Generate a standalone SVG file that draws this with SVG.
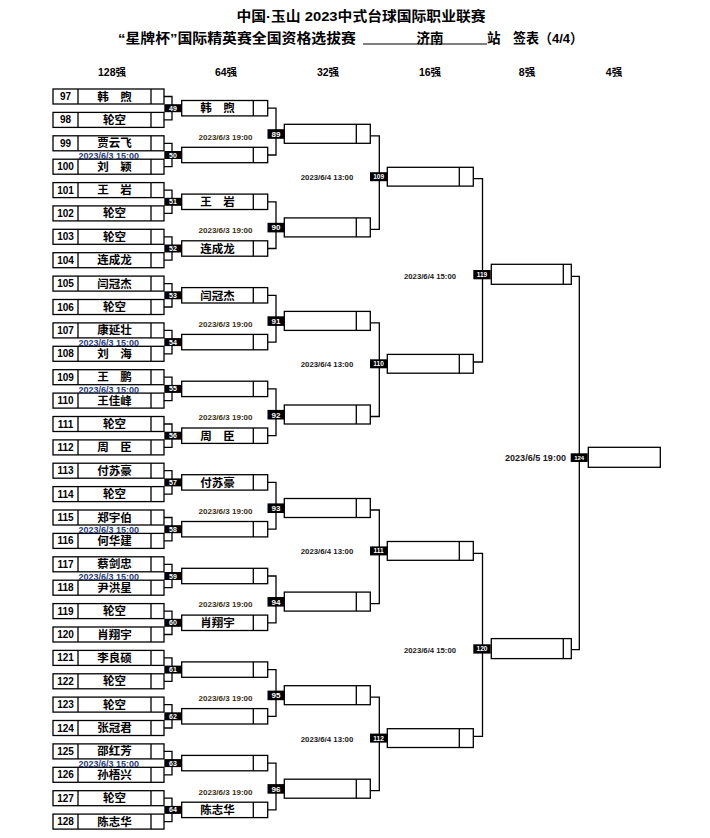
<svg xmlns="http://www.w3.org/2000/svg" xmlns:xlink="http://www.w3.org/1999/xlink" width="710" height="838" viewBox="0 0 710 838">
<style>
.t{font-family:"Liberation Sans","Noto Sans CJK SC",sans-serif;font-weight:bold;text-anchor:middle;fill:#000}
.b{fill:#fff;stroke:#000;stroke-width:1.3}
.d{fill:none;stroke:#000;stroke-width:1.3}
.c{fill:none;stroke:#000;stroke-width:1.3}
.num{font-size:10px}
.nm{font-size:11.5px}
.lb{fill:#000}
.lt{fill:#fff;font-size:7px}
.d15{font-size:8.5px;fill:#1f3a78;text-anchor:start}
.d19{font-size:7.5px;fill:#3a2f12}
.dt{font-size:7.5px;fill:#1a1a1a}
.hd{font-size:10.5px}
.ti{font-size:13.5px}
</style>
<defs>
<g id="r128"><rect class="b" x="53" y="0" width="111" height="15"/><path class="d" d="M78 0v15M151 0v15"/></g>
<g id="r64"><rect class="b" x="181.7" y="-7.7" width="86" height="15.4"/><path class="d" d="M253.3 -7.7v15.4"/><rect class="lb" x="164.3" y="-4" width="17.4" height="8"/></g>
<g id="r32"><rect class="b" x="284.3" y="-9.5" width="86" height="19"/><path class="d" d="M356.3 -9.5v19"/><rect class="lb" x="267.5" y="-4.6" width="16.8" height="9.6"/></g>
<g id="r16"><rect class="b" x="387.3" y="-9.4" width="86" height="18.8"/><path class="d" d="M459.3 -9.4v18.8"/><rect class="lb" x="370" y="-4.5" width="17.2" height="9"/></g>
<g id="r8"><rect class="b" x="491.3" y="-10" width="80" height="20"/><path class="d" d="M563.3 -10v20"/><rect class="lb" x="473.3" y="-4.3" width="17.4" height="9.3"/></g>
</defs>

<g id="title">
<text class="t ti" x="361" y="21" textLength="249" lengthAdjust="spacingAndGlyphs">中国·玉山 2023中式台球国际职业联赛</text>
<text class="t ti" x="118" y="43" style="text-anchor:start" textLength="238" lengthAdjust="spacingAndGlyphs">“星牌杯”国际精英赛全国资格选拔赛</text>
<line x1="363" y1="44" x2="487" y2="44" stroke="#000" stroke-width="1"/>
<text class="t ti" x="430" y="43">济南</text>
<text class="t ti" x="487" y="43" style="text-anchor:start">站</text>
<text class="t ti" x="513" y="43" style="text-anchor:start" textLength="70" lengthAdjust="spacingAndGlyphs">签表（4/4）</text>
</g>

<g id="headers">
<text class="t hd" x="112" y="76">128强</text>
<text class="t hd" x="226" y="76">64强</text>
<text class="t hd" x="328" y="76">32强</text>
<text class="t hd" x="430" y="76">16强</text>
<text class="t hd" x="527" y="76">8强</text>
<text class="t hd" x="614" y="76">4强</text>
</g>

<g id="connectors">
<path class="c" d="M164 96.5H172V119.9H164M164 143.3H172V166.7H164M164 190.1H172V213.4H164M164 236.8H172V260.2H164M164 283.6H172V307H164M164 330.4H172V353.8H164M164 377.2H172V400.6H164M164 424H172V447.4H164M164 470.7H172V494.1H164M164 517.5H172V540.9H164M164 564.3H172V587.7H164M164 611.1H172V634.5H164M164 657.9H172V681.3H164M164 704.6H172V728H164M164 751.4H172V774.8H164M164 798.2H172V821.6H164"/>
<path class="c" d="M267.7 108.2H276V155H267.7M267.7 201.8H276V248.5H267.7M267.7 295.3H276V342.1H267.7M267.7 388.9H276V435.7H267.7M267.7 482.4H276V529.2H267.7M267.7 576H276V622.8H267.7M267.7 669.6H276V716.3H267.7M267.7 763.1H276V809.9H267.7"/>
<path class="c" d="M370.3 135.8H379.3V229.4H370.3M370.3 322.9H379.3V416.5H370.3M370.3 510H379.3V603.6H370.3M370.3 697.2H379.3V790.7H370.3"/>
<path class="c" d="M473.3 178.7H482.5V362H473.3M473.3 553.3H482.5V736.4H473.3"/>
<path class="c" d="M571.3 276.3H579.3V649.7H571.3"/>
</g>

<g id="p97" transform="translate(0,89)"><use href="#r128"/><text class="t num" x="65.5" y="11.1">97</text><text class="t nm" x="114.5" y="11.6">韩　煦</text></g>
<g id="p98" transform="translate(0,112.4)"><use href="#r128"/><text class="t num" x="65.5" y="11.1">98</text><text class="t nm" x="114.5" y="11.6">轮空</text></g>
<g id="p99" transform="translate(0,135.8)"><use href="#r128"/><text class="t num" x="65.5" y="11.1">99</text><text class="t nm" x="114.5" y="11.6">贾云飞</text></g>
<g id="p100" transform="translate(0,159.2)"><use href="#r128"/><text class="t num" x="65.5" y="11.1">100</text><text class="t nm" x="114.5" y="11.6">刘　颖</text></g>
<g id="p101" transform="translate(0,182.6)"><use href="#r128"/><text class="t num" x="65.5" y="11.1">101</text><text class="t nm" x="114.5" y="11.6">王　岩</text></g>
<g id="p102" transform="translate(0,205.9)"><use href="#r128"/><text class="t num" x="65.5" y="11.1">102</text><text class="t nm" x="114.5" y="11.6">轮空</text></g>
<g id="p103" transform="translate(0,229.3)"><use href="#r128"/><text class="t num" x="65.5" y="11.1">103</text><text class="t nm" x="114.5" y="11.6">轮空</text></g>
<g id="p104" transform="translate(0,252.7)"><use href="#r128"/><text class="t num" x="65.5" y="11.1">104</text><text class="t nm" x="114.5" y="11.6">连成龙</text></g>
<g id="p105" transform="translate(0,276.1)"><use href="#r128"/><text class="t num" x="65.5" y="11.1">105</text><text class="t nm" x="114.5" y="11.6">闫冠杰</text></g>
<g id="p106" transform="translate(0,299.5)"><use href="#r128"/><text class="t num" x="65.5" y="11.1">106</text><text class="t nm" x="114.5" y="11.6">轮空</text></g>
<g id="p107" transform="translate(0,322.9)"><use href="#r128"/><text class="t num" x="65.5" y="11.1">107</text><text class="t nm" x="114.5" y="11.6">康延壮</text></g>
<g id="p108" transform="translate(0,346.3)"><use href="#r128"/><text class="t num" x="65.5" y="11.1">108</text><text class="t nm" x="114.5" y="11.6">刘　海</text></g>
<g id="p109" transform="translate(0,369.7)"><use href="#r128"/><text class="t num" x="65.5" y="11.1">109</text><text class="t nm" x="114.5" y="11.6">王　鹏</text></g>
<g id="p110" transform="translate(0,393.1)"><use href="#r128"/><text class="t num" x="65.5" y="11.1">110</text><text class="t nm" x="114.5" y="11.6">王佳峰</text></g>
<g id="p111" transform="translate(0,416.5)"><use href="#r128"/><text class="t num" x="65.5" y="11.1">111</text><text class="t nm" x="114.5" y="11.6">轮空</text></g>
<g id="p112" transform="translate(0,439.9)"><use href="#r128"/><text class="t num" x="65.5" y="11.1">112</text><text class="t nm" x="114.5" y="11.6">周　臣</text></g>
<g id="p113" transform="translate(0,463.2)"><use href="#r128"/><text class="t num" x="65.5" y="11.1">113</text><text class="t nm" x="114.5" y="11.6">付苏豪</text></g>
<g id="p114" transform="translate(0,486.6)"><use href="#r128"/><text class="t num" x="65.5" y="11.1">114</text><text class="t nm" x="114.5" y="11.6">轮空</text></g>
<g id="p115" transform="translate(0,510)"><use href="#r128"/><text class="t num" x="65.5" y="11.1">115</text><text class="t nm" x="114.5" y="11.6">郑宇伯</text></g>
<g id="p116" transform="translate(0,533.4)"><use href="#r128"/><text class="t num" x="65.5" y="11.1">116</text><text class="t nm" x="114.5" y="11.6">何华建</text></g>
<g id="p117" transform="translate(0,556.8)"><use href="#r128"/><text class="t num" x="65.5" y="11.1">117</text><text class="t nm" x="114.5" y="11.6">蔡剑忠</text></g>
<g id="p118" transform="translate(0,580.2)"><use href="#r128"/><text class="t num" x="65.5" y="11.1">118</text><text class="t nm" x="114.5" y="11.6">尹洪星</text></g>
<g id="p119" transform="translate(0,603.6)"><use href="#r128"/><text class="t num" x="65.5" y="11.1">119</text><text class="t nm" x="114.5" y="11.6">轮空</text></g>
<g id="p120" transform="translate(0,627)"><use href="#r128"/><text class="t num" x="65.5" y="11.1">120</text><text class="t nm" x="114.5" y="11.6">肖翔宇</text></g>
<g id="p121" transform="translate(0,650.4)"><use href="#r128"/><text class="t num" x="65.5" y="11.1">121</text><text class="t nm" x="114.5" y="11.6">李良硕</text></g>
<g id="p122" transform="translate(0,673.8)"><use href="#r128"/><text class="t num" x="65.5" y="11.1">122</text><text class="t nm" x="114.5" y="11.6">轮空</text></g>
<g id="p123" transform="translate(0,697.1)"><use href="#r128"/><text class="t num" x="65.5" y="11.1">123</text><text class="t nm" x="114.5" y="11.6">轮空</text></g>
<g id="p124" transform="translate(0,720.5)"><use href="#r128"/><text class="t num" x="65.5" y="11.1">124</text><text class="t nm" x="114.5" y="11.6">张冠君</text></g>
<g id="p125" transform="translate(0,743.9)"><use href="#r128"/><text class="t num" x="65.5" y="11.1">125</text><text class="t nm" x="114.5" y="11.6">邵红芳</text></g>
<g id="p126" transform="translate(0,767.3)"><use href="#r128"/><text class="t num" x="65.5" y="11.1">126</text><text class="t nm" x="114.5" y="11.6">孙梧兴</text></g>
<g id="p127" transform="translate(0,790.7)"><use href="#r128"/><text class="t num" x="65.5" y="11.1">127</text><text class="t nm" x="114.5" y="11.6">轮空</text></g>
<g id="p128" transform="translate(0,814.1)"><use href="#r128"/><text class="t num" x="65.5" y="11.1">128</text><text class="t nm" x="114.5" y="11.6">陈志华</text></g>

<g id="m49" transform="translate(0,108.2)"><use href="#r64"/><text class="t lt" x="173" y="2.5">49</text><text class="t nm" x="217.5" y="4.2">韩　煦</text></g>
<g id="m50" transform="translate(0,155)"><use href="#r64"/><text class="t lt" x="173" y="2.5">50</text><text class="t d15" x="78.5" y="3.7" textLength="60.5" lengthAdjust="spacingAndGlyphs">2023/6/3 15:00</text></g>
<g id="m51" transform="translate(0,201.8)"><use href="#r64"/><text class="t lt" x="173" y="2.5">51</text><text class="t nm" x="217.5" y="4.2">王　岩</text></g>
<g id="m52" transform="translate(0,248.5)"><use href="#r64"/><text class="t lt" x="173" y="2.5">52</text><text class="t nm" x="217.5" y="4.2">连成龙</text></g>
<g id="m53" transform="translate(0,295.3)"><use href="#r64"/><text class="t lt" x="173" y="2.5">53</text><text class="t nm" x="217.5" y="4.2">闫冠杰</text></g>
<g id="m54" transform="translate(0,342.1)"><use href="#r64"/><text class="t lt" x="173" y="2.5">54</text><text class="t d15" x="78.5" y="3.7" textLength="60.5" lengthAdjust="spacingAndGlyphs">2023/6/3 15:00</text></g>
<g id="m55" transform="translate(0,388.9)"><use href="#r64"/><text class="t lt" x="173" y="2.5">55</text><text class="t d15" x="78.5" y="3.7" textLength="60.5" lengthAdjust="spacingAndGlyphs">2023/6/3 15:00</text></g>
<g id="m56" transform="translate(0,435.7)"><use href="#r64"/><text class="t lt" x="173" y="2.5">56</text><text class="t nm" x="217.5" y="4.2">周　臣</text></g>
<g id="m57" transform="translate(0,482.4)"><use href="#r64"/><text class="t lt" x="173" y="2.5">57</text><text class="t nm" x="217.5" y="4.2">付苏豪</text></g>
<g id="m58" transform="translate(0,529.2)"><use href="#r64"/><text class="t lt" x="173" y="2.5">58</text><text class="t d15" x="78.5" y="3.7" textLength="60.5" lengthAdjust="spacingAndGlyphs">2023/6/3 15:00</text></g>
<g id="m59" transform="translate(0,576)"><use href="#r64"/><text class="t lt" x="173" y="2.5">59</text><text class="t d15" x="78.5" y="3.7" textLength="60.5" lengthAdjust="spacingAndGlyphs">2023/6/3 15:00</text></g>
<g id="m60" transform="translate(0,622.8)"><use href="#r64"/><text class="t lt" x="173" y="2.5">60</text><text class="t nm" x="217.5" y="4.2">肖翔宇</text></g>
<g id="m61" transform="translate(0,669.6)"><use href="#r64"/><text class="t lt" x="173" y="2.5">61</text></g>
<g id="m62" transform="translate(0,716.3)"><use href="#r64"/><text class="t lt" x="173" y="2.5">62</text></g>
<g id="m63" transform="translate(0,763.1)"><use href="#r64"/><text class="t lt" x="173" y="2.5">63</text><text class="t d15" x="78.5" y="3.7" textLength="60.5" lengthAdjust="spacingAndGlyphs">2023/6/3 15:00</text></g>
<g id="m64" transform="translate(0,809.9)"><use href="#r64"/><text class="t lt" x="173" y="2.5">64</text><text class="t nm" x="217.5" y="4.2">陈志华</text></g>

<g id="m89" transform="translate(0,133.8)"><use href="#r32"/><text class="t lt" x="275.9" y="3" style="font-size:8px">89</text><text class="t d19" x="225.5" y="5.8" textLength="54" lengthAdjust="spacingAndGlyphs">2023/6/3 19:00</text></g>
<g id="m90" transform="translate(0,227.4)"><use href="#r32"/><text class="t lt" x="275.9" y="3" style="font-size:8px">90</text><text class="t d19" x="225.5" y="5.8" textLength="54" lengthAdjust="spacingAndGlyphs">2023/6/3 19:00</text></g>
<g id="m91" transform="translate(0,320.9)"><use href="#r32"/><text class="t lt" x="275.9" y="3" style="font-size:8px">91</text><text class="t d19" x="225.5" y="5.8" textLength="54" lengthAdjust="spacingAndGlyphs">2023/6/3 19:00</text></g>
<g id="m92" transform="translate(0,414.5)"><use href="#r32"/><text class="t lt" x="275.9" y="3" style="font-size:8px">92</text><text class="t d19" x="225.5" y="5.8" textLength="54" lengthAdjust="spacingAndGlyphs">2023/6/3 19:00</text></g>
<g id="m93" transform="translate(0,508)"><use href="#r32"/><text class="t lt" x="275.9" y="3" style="font-size:8px">93</text><text class="t d19" x="225.5" y="5.8" textLength="54" lengthAdjust="spacingAndGlyphs">2023/6/3 19:00</text></g>
<g id="m94" transform="translate(0,601.6)"><use href="#r32"/><text class="t lt" x="275.9" y="3" style="font-size:8px">94</text><text class="t d19" x="225.5" y="5.8" textLength="54" lengthAdjust="spacingAndGlyphs">2023/6/3 19:00</text></g>
<g id="m95" transform="translate(0,695.2)"><use href="#r32"/><text class="t lt" x="275.9" y="3" style="font-size:8px">95</text><text class="t d19" x="225.5" y="5.8" textLength="54" lengthAdjust="spacingAndGlyphs">2023/6/3 19:00</text></g>
<g id="m96" transform="translate(0,788.7)"><use href="#r32"/><text class="t lt" x="275.9" y="3" style="font-size:8px">96</text><text class="t d19" x="225.5" y="5.8" textLength="54" lengthAdjust="spacingAndGlyphs">2023/6/3 19:00</text></g>

<g id="m109" transform="translate(0,176.7)"><use href="#r16"/><text class="t lt" x="378.6" y="2.4" style="font-size:6.5px">109</text><text class="t dt" x="327" y="3.5" textLength="52.6" lengthAdjust="spacingAndGlyphs">2023/6/4 13:00</text></g>
<g id="m110" transform="translate(0,363.8)"><use href="#r16"/><text class="t lt" x="378.6" y="2.4" style="font-size:6.5px">110</text><text class="t dt" x="327" y="3.5" textLength="52.6" lengthAdjust="spacingAndGlyphs">2023/6/4 13:00</text></g>
<g id="m111" transform="translate(0,550.9)"><use href="#r16"/><text class="t lt" x="378.6" y="2.4" style="font-size:6.5px">111</text><text class="t dt" x="327" y="3.5" textLength="52.6" lengthAdjust="spacingAndGlyphs">2023/6/4 13:00</text></g>
<g id="m112" transform="translate(0,738.1)"><use href="#r16"/><text class="t lt" x="378.6" y="2.4" style="font-size:6.5px">112</text><text class="t dt" x="327" y="3.5" textLength="52.6" lengthAdjust="spacingAndGlyphs">2023/6/4 13:00</text></g>

<g id="m119" transform="translate(0,274.3)"><use href="#r8"/><text class="t lt" x="482" y="2.6" style="font-size:6.5px">119</text><text class="t dt" x="430" y="4.7" textLength="52" lengthAdjust="spacingAndGlyphs">2023/6/4 15:00</text></g>
<g id="m120" transform="translate(0,648.6)"><use href="#r8"/><text class="t lt" x="482" y="2.6" style="font-size:6.5px">120</text><text class="t dt" x="430" y="4.7" textLength="52" lengthAdjust="spacingAndGlyphs">2023/6/4 15:00</text></g>

<g id="m124"><rect class="b" x="588.3" y="447.3" width="72" height="20"/><rect class="lb" x="570.7" y="453.3" width="17" height="8.7"/><text class="t lt" x="579.2" y="460" style="font-size:6px">124</text><text class="t dt" x="535.5" y="461" style="font-size:9px" textLength="61" lengthAdjust="spacingAndGlyphs">2023/6/5 19:00</text></g>
</svg>
